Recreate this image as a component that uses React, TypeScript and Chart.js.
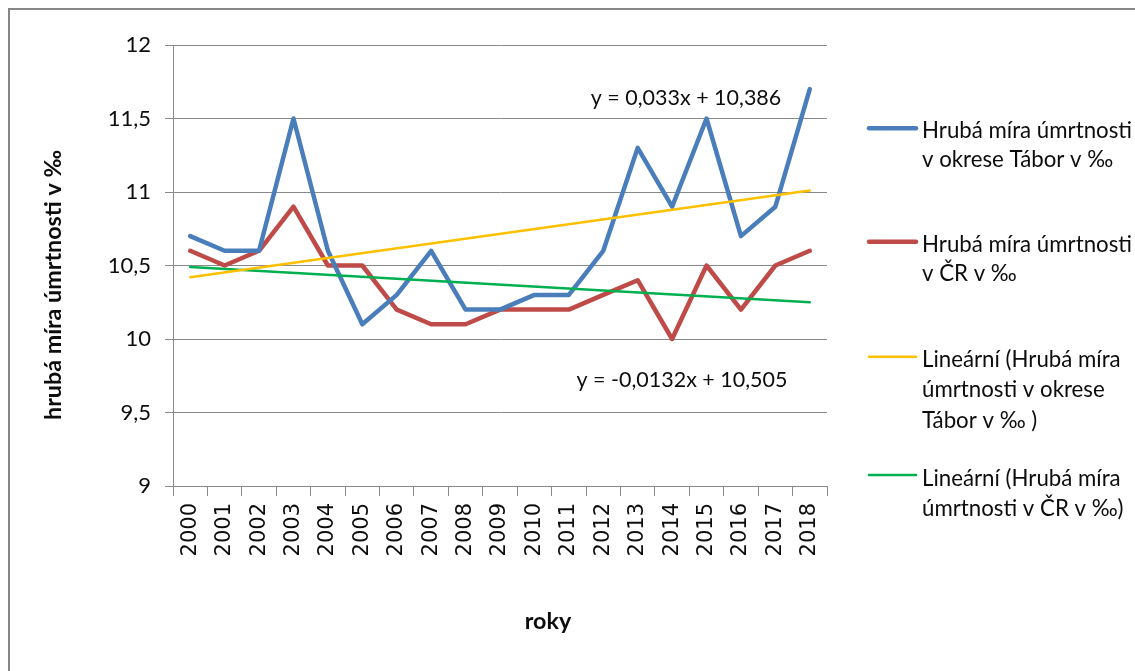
import React, { useEffect, useRef } from "react";
import { Chart, registerables } from "chart.js";

Chart.register(...registerables);

const years = ["2000", "2001", "2002", "2003", "2004", "2005", "2006", "2007", "2008", "2009", "2010", "2011", "2012", "2013", "2014", "2015", "2016", "2017", "2018"];
const taborRate = [10.7, 10.6, 10.6, 11.5, 10.6, 10.1, 10.3, 10.6, 10.2, 10.2, 10.3, 10.3, 10.6, 11.3, 10.9, 11.5, 10.7, 10.9, 11.7];
const czRate = [10.6, 10.5, 10.6, 10.9, 10.5, 10.5, 10.2, 10.1, 10.1, 10.2, 10.2, 10.2, 10.3, 10.4, 10.0, 10.5, 10.2, 10.5, 10.6];
// trend lines: only the two end points
const taborTrend = [10.42, null, null, null, null, null, null, null, null, null, null, null, null, null, null, null, null, null, 11.01];
const czTrend = [10.49, null, null, null, null, null, null, null, null, null, null, null, null, null, null, null, null, null, 10.25];

const seriesNames = [
  "Hrubá míra úmrtnosti v okrese Tábor v ‰",
  "Hrubá míra úmrtnosti v ČR v ‰",
  "Lineární (Hrubá míra úmrtnosti v okrese Tábor v ‰ )",
  "Lineární (Hrubá míra úmrtnosti v ČR v ‰)",
];
const legendLines = [
  ["Hrubá míra úmrtnosti", "v okrese Tábor v ‰"],
  ["Hrubá míra úmrtnosti", "v ČR v ‰"],
  ["Lineární (Hrubá míra", "úmrtnosti v okrese", "Tábor v ‰ )"],
  ["Lineární (Hrubá míra", "úmrtnosti v ČR v ‰)"],
];
const equations = ["y = 0,033x + 10,386", "y = -0,0132x + 10,505"];
const yTitle = "hrubá míra úmrtnosti v ‰";
const xTitle = "roky";
const yMin = 9;
const yMax = 12;
const yStep = 0.5;

const colors = ["#4A7EBB", "#BE4B48", "#FFC000", "#00B050"];
const widths = [4.5, 4.5, 2.5, 2.5];
const gridColor = "#898989";
const textColor = "#0d0d0d";
const FONT = "Lato, 'Noto Sans', sans-serif";

function scaledText(ctx: CanvasRenderingContext2D, text: string, x: number, y: number, sx: number) {
  ctx.save();
  ctx.translate(x, y);
  ctx.scale(sx, 1);
  ctx.fillText(text, 0, 0);
  ctx.restore();
}

const textPlugin = {
  id: "texts",
  afterDraw(chart: any) {
    const ctx = chart.ctx as CanvasRenderingContext2D;
    ctx.save();
    ctx.fillStyle = textColor;

    // equations
    ctx.font = `22px ${FONT}`;
    ctx.textAlign = "center";
    ctx.textBaseline = "alphabetic";
    const eqScale = 211 / ctx.measureText(equations[1]).width;
    scaledText(ctx, equations[0], 676, 95, eqScale);
    scaledText(ctx, equations[1], 672, 377, eqScale);

    // legend
    const entryTextY = [[121, 150], [234.7, 263.7], [349.3, 380, 410.7], [468.7, 498.7]];
    const entryLineY = [118.3, 231.7, 346.7, 465];
    ctx.font = `23px ${FONT}`;
    const legScale = 210 / ctx.measureText(legendLines[0][0]).width;
    legendLines.forEach((lines, i) => {
      ctx.strokeStyle = colors[i];
      ctx.lineWidth = widths[i];
      ctx.lineCap = "round";
      ctx.beginPath();
      ctx.moveTo(859, entryLineY[i]);
      ctx.lineTo(906, entryLineY[i]);
      ctx.stroke();
      ctx.textAlign = "left";
      ctx.textBaseline = "middle";
      lines.forEach((t, j) => scaledText(ctx, t, 912, entryTextY[i][j], legScale));
    });

    // axis titles
    ctx.font = `bold 22px ${FONT}`;
    ctx.textAlign = "center";
    ctx.textBaseline = "middle";
    const titleScale = 270 / ctx.measureText(yTitle).width;
    scaledText(ctx, xTitle, 538, 612, titleScale);
    ctx.save();
    ctx.translate(44, 275);
    ctx.rotate(-Math.PI / 2);
    scaledText(ctx, yTitle, 0, 0, titleScale);
    ctx.restore();
    ctx.restore();
  },
};

export default function App() {
  const ref = useRef<HTMLCanvasElement | null>(null);
  useEffect(() => {
    if (!ref.current) return;
    const chart = new Chart(ref.current, {
      type: "line",
      data: {
        labels: years,
        datasets: [taborRate, czRate, taborTrend, czTrend].map((d, i) => ({
          label: seriesNames[i],
          data: d as any,
          borderColor: colors[i],
          backgroundColor: colors[i],
          borderWidth: widths[i],
          pointRadius: 0,
          tension: 0,
          spanGaps: true,
          borderJoinStyle: "round" as const,
          borderCapStyle: "round" as const,
          order: i < 2 ? 1 : 0,
        })),
      },
      options: {
        responsive: false,
        animation: false,
        devicePixelRatio: 1,
        layout: { padding: { top: 35, right: 308, left: 0, bottom: 0 } },
        plugins: { legend: { display: false }, tooltip: { enabled: false } },
        scales: {
          x: {
            type: "category",
            offset: true,
            grid: { offset: true, drawOnChartArea: false, color: gridColor, tickLength: 10, lineWidth: 1 },
            border: { color: gridColor, width: 1 },
            ticks: {
              autoSkip: false,
              minRotation: 90,
              maxRotation: 90,
              padding: 7,
              color: textColor,
              font: { family: "'DejaVu Sans', sans-serif", size: 21 },
            },
            afterFit: (s: any) => {
              s.height = 185;
            },
          },
          y: {
            min: yMin,
            max: yMax,
            ticks: {
              stepSize: yStep,
              padding: 14,
              color: textColor,
              font: { family: FONT, size: 22 },
              callback: (v: any) => String(v).replace(".", ","),
            },
            grid: { color: gridColor, tickLength: 8, lineWidth: 1 },
            border: { color: gridColor, width: 1 },
            afterFit: (s: any) => {
              s.width = 163;
            },
          },
        },
      },
      plugins: [textPlugin],
    });
    return () => chart.destroy();
  }, []);
  return (
    <div
      style={{
        position: "fixed",
        left: 8,
        top: 8,
        width: 1127,
        height: 663,
        overflow: "hidden",
        borderLeft: "2px solid #868686",
        borderTop: "2px solid #868686",
        boxSizing: "border-box",
        background: "#fff",
      }}
    >
      <canvas ref={ref} width={1125} height={661} style={{ display: "block", width: 1125, height: 661 }} />
    </div>
  );
}
